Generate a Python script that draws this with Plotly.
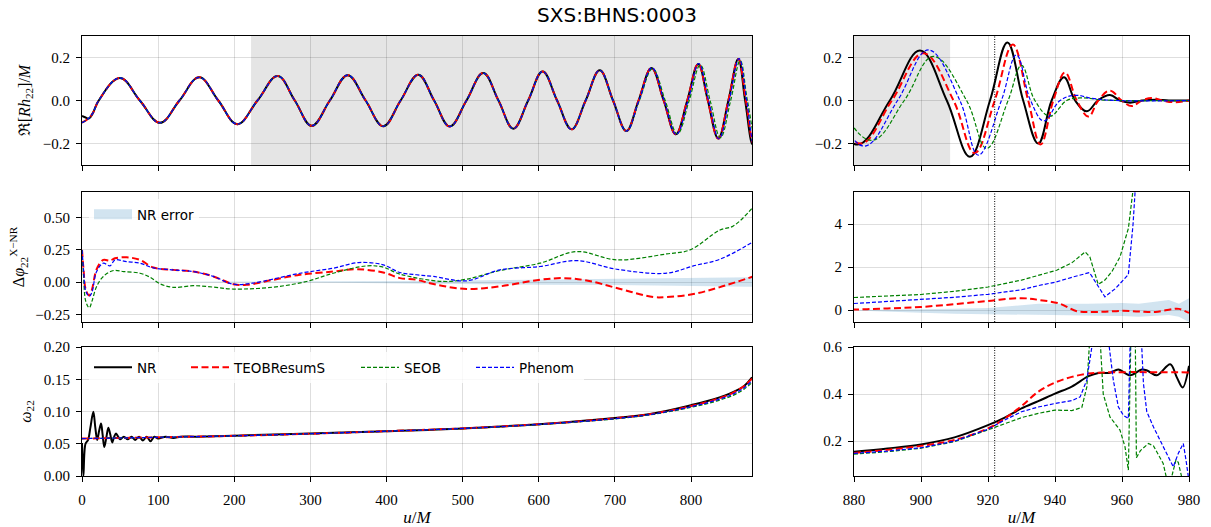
import plotly.graph_objects as go

# ------------------------------------------------------------------
# DATA
# ------------------------------------------------------------------
# --- Re[R h22]/M : extrema and zero crossings ---
t_head_nr = [0, 4, 9, 14]
h_head_nr = [-0.072, -0.078, -0.084, -0.06]
t_head_mod = [0, 8, 14]
h_head_mod = [-0.103, -0.085, -0.06]

t_mid = [22, 49.9, 76, 102.4, 128, 154, 179, 204, 230.5, 257, 279.5, 301.7,
         325.5, 349, 372.5, 395.7, 418.5, 441.7, 462.5, 483, 505, 527, 547,
         566.5, 586, 605, 624, 643, 661.5, 680, 697.5, 715]
h_mid = [0, 0.105, 0, -0.104, 0, 0.108, 0, -0.11, 0, 0.114, 0, -0.118,
         0, 0.118, 0, -0.12, 0, 0.12, 0, -0.121, 0, 0.128, 0,
         -0.131, 0, 0.135, 0, -0.134, 0, 0.141, 0, -0.142]

t_tail_nr = [731, 748, 764, 780, 795, 809.4, 822, 835.7, 849, 862, 871, 881,
             890.7, 899.7, 907.7, 914.6, 920.6, 925.8, 930.5, 935, 939, 942.7,
             946, 949.5, 952.8, 956.4, 959.4, 962.4, 966, 970, 974, 980]
h_tail_nr = [0, 0.151, 0, -0.157, 0, 0.17, 0, -0.177, 0, 0.193, 0, -0.205,
             0, 0.232, 0, -0.262, 0, 0.27, 0, -0.2, 0, 0.108,
             0, -0.05, 0, 0.025, 0, -0.01, 0, 0.004, 0, 0]

t_tail_teob = [731, 748, 764, 780, 795, 809.4, 822, 835.7, 849, 862, 872, 882,
               891.3, 900.7, 909.7, 916, 922, 927.4, 932, 935.7, 939.5, 943,
               946.5, 950, 952.9, 956.4, 959.9, 962.9, 965.9, 968.9, 972,
               975.8, 980]
h_tail_teob = [0, 0.151, 0, -0.157, 0, 0.17, 0, -0.177, 0, 0.192, 0, -0.2,
               0, 0.22, 0, -0.245, 0, 0.26, 0, -0.205, 0, 0.13,
               0, -0.075, 0, 0.046, 0, -0.026, 0, 0.012, 0,
               -0.008, 0]

t_tail_seob = [732, 749.5, 766, 782, 797.5, 812, 825, 838.5, 852, 864.5, 874,
               885.3, 895, 903.7, 913.6, 919.6, 926, 930, 934, 938.5, 943.5,
               947.5, 955, 980]
h_tail_seob = [0, 0.148, 0, -0.155, 0, 0.165, 0, -0.173, 0, 0.185, 0,
               -0.185, 0, 0.205, 0, -0.223, 0, 0.163, 0, -0.073, 0,
               0.012, 0.002, 0]

t_tail_phen = [731.5, 748.5, 764.5, 780.5, 796, 810, 823, 836.5, 850, 863, 873,
               883, 893, 902.2, 911.6, 917.1, 924, 928.5, 932.7, 936.7, 941.5,
               946, 951, 958, 980]
h_tail_phen = [0, 0.152, 0, -0.158, 0, 0.172, 0, -0.178, 0, 0.195, 0,
               -0.212, 0, 0.235, 0, -0.254, 0, 0.212, 0, -0.095, 0,
               0.024, 0.01, 0, 0]

# --- phase difference, inspiral (0-880) ---
tp_teob_l = [0, 2, 5, 9.6, 13, 19.2, 28, 36.7, 43.3, 58.6, 76.2, 93.7, 120, 146,
             172.5, 198.8, 216.3, 251.3, 286.3, 330, 360.7, 395.7, 417.7, 439.5,
             461.5, 505.2, 549, 601.5, 632.2, 662.8, 702.3, 750.4, 768, 803,
             838, 881.8]
dp_teob_l = [0.25, 0.1, -0.06, -0.104, -0.06, 0.1, 0.172, 0.167, 0.185, 0.193,
             0.172, 0.113, 0.095, 0.082, 0.044, -0.016, -0.021, 0.018, 0.057,
             0.082, 0.1, 0.075, 0.031, 0.018, -0.015, -0.054, -0.033, 0.018,
             0.031, 0.013, -0.046, -0.116, -0.116, -0.093, -0.039, 0.044]

tp_phen_l = [0, 2, 5, 9.6, 13, 19.2, 28, 36.7, 43.3, 58.6, 76.2, 93.7, 120, 146,
             172.5, 198.8, 224, 286.3, 330, 363.3, 395.7, 417.7, 439.5, 461.5,
             505.2, 549, 601.5, 649.7, 702.3, 768, 803, 838, 881.8]
dp_phen_l = [0.25, 0.1, -0.07, -0.11, -0.08, 0.082, 0.147, 0.126, 0.172, 0.159,
             0.147, 0.11, 0.095, 0.082, 0.044, -0.016, -0.008, 0.069, 0.108,
             0.152, 0.134, 0.0745, 0.057, 0.044, 0.01, 0.095, 0.121, 0.167,
             0.1, 0.069, 0.126, 0.178, 0.314]

tp_seob_l = [0, 2, 5, 9.6, 13, 19.2, 28, 41.5, 54.7, 76.2, 89.3, 102.4, 120,
             146, 172.5, 198.8, 251.3, 295, 330, 374, 395.7, 417.7, 474.6,
             505.2, 549, 601.5, 649.7, 702.3, 768, 798.6, 838, 855.5, 881.8]
dp_seob_l = [0.25, 0.05, -0.15, -0.2, -0.15, -0.034, 0.044, 0.09, 0.082, 0.069,
             0.038, -0.013, -0.041, -0.028, -0.039, -0.054, -0.039, 0.005,
             0.069, 0.126, 0.116, 0.062, 0.005, 0.023, 0.09, 0.147, 0.237,
             0.173, 0.219, 0.25, 0.405, 0.436, 0.585]

t_err_l = [0, 300, 400, 450, 500, 600, 700, 800, 880]
err_l = [0.002, 0.004, 0.006, 0.009, 0.013, 0.02, 0.023, 0.03, 0.037]

# --- phase difference, merger (880-980) ---
tp_teob_r = [870, 880, 890, 900, 910, 920, 930, 935.5, 941.5, 946.5, 950, 955,
             960, 965, 970, 975, 977, 980]
dp_teob_r = [0.0, 0.03, 0.08, 0.15, 0.28, 0.43, 0.56, 0.47, 0.3, -0.05, -0.08,
             -0.07, -0.03, -0.06, -0.08, 0.05, 0.06, -0.13]

tp_seob_r = [880, 890, 900, 910, 920, 930, 935.5, 940.5, 945, 949, 950.4, 952.9,
             954.9, 957, 959.4, 961.9, 963.3, 964]
dp_seob_r = [0.59, 0.65, 0.73, 0.88, 1.08, 1.4, 1.63, 1.86, 2.2, 2.71, 2.48, 1.2,
             1.4, 1.8, 2.48, 3.8, 5.6, 7.0]

tp_phen_r = [880, 890, 900, 910, 920, 930, 935.5, 940, 945.5, 950.3, 954.9, 958,
             961.9, 963.3, 964.5]
dp_phen_r = [0.31, 0.4, 0.5, 0.6, 0.74, 0.95, 1.16, 1.3, 1.55, 1.75, 0.62, 1.0,
             1.66, 4.0, 7.0]

t_err_r = [880, 890, 900, 910, 920, 935, 950, 960, 965, 970, 974, 977, 980]
err_up_r = [0.01, 0.02, 0.04, 0.07, 0.1, 0.3, 0.3, 0.33, 0.3, 0.4, 0.47, 0.3, 0.55]
err_lo_r = [-0.02, -0.07, -0.12, -0.17, -0.22, -0.23, -0.25, -0.27, -0.3, -0.25,
            -0.23, -0.3, -0.55]

# --- frequency, inspiral (0-880) ---
tw_nr_l = [0, 1.8, 4.6, 8, 11, 14.9, 17.5, 20, 22.5, 25, 27, 29.3, 32, 34.6, 37,
           39.8, 42, 44.6, 47, 50, 55, 60, 65, 70, 75, 80, 85, 90, 95, 100, 110,
           120, 130, 150, 200, 300, 400, 500, 600, 700, 750, 800, 830, 855, 870,
           880]
w_nr_l = [0.051, 0.0, 0.05, 0.056, 0.075, 0.0995, 0.075, 0.056, 0.07, 0.0815,
          0.065, 0.045, 0.06, 0.075, 0.065, 0.052, 0.06, 0.066, 0.062, 0.057,
          0.061, 0.057, 0.061, 0.056, 0.061, 0.055, 0.061, 0.054, 0.061, 0.058,
          0.061, 0.059, 0.061, 0.061, 0.0625, 0.066, 0.0695, 0.0738, 0.0804,
          0.090, 0.097, 0.1098, 0.119, 0.130, 0.14, 0.153]

tw_mod_l = [0, 100, 200, 300, 400, 500, 600, 700, 750, 800, 830, 855, 870, 880]
w_teob_l = [0.058, 0.060, 0.0623, 0.0655, 0.0695, 0.0738, 0.0802, 0.0895, 0.0965,
            0.1085, 0.118, 0.129, 0.14, 0.151]
w_seob_l = [0.058, 0.060, 0.0623, 0.0655, 0.0695, 0.0735, 0.0797, 0.0885, 0.0955,
            0.1065, 0.115, 0.125, 0.135, 0.145]
w_phen_l = [0.058, 0.060, 0.0623, 0.0655, 0.0695, 0.0737, 0.0800, 0.089, 0.096,
            0.1075, 0.1165, 0.127, 0.137, 0.148]

# --- frequency, merger (880-980) ---
tw_nr_r = [880, 890, 900, 910, 920, 925, 930, 935, 940, 945, 950, 953, 956.4,
           958.9, 962.4, 965.9, 967.5, 970.4, 974.4, 976.4, 978.1, 980]
w_nr_r = [0.155, 0.169, 0.186, 0.216, 0.268, 0.3, 0.339, 0.37, 0.402, 0.432,
          0.476, 0.49, 0.49, 0.504, 0.48, 0.504, 0.5, 0.48, 0.527, 0.47, 0.428,
          0.52]

tw_teob_r = [880, 890, 900, 910, 920, 925, 930, 935, 940, 945, 950, 955, 980]
w_teob_r = [0.15, 0.163, 0.18, 0.205, 0.254, 0.296, 0.349, 0.41, 0.449, 0.473,
            0.487, 0.492, 0.492]

tw_phen_r = [880, 890, 900, 910, 920, 925, 930, 935, 940, 945, 947.5, 949.5, 951,
             952, 955, 956.2, 957.4, 958.9, 960.4, 961.9, 962.4, 962.8, 965.5,
             965.9, 966.4, 967.4, 969.4, 972.3, 975.3, 976.8, 978.3, 979.1, 979.8]
w_phen_r = [0.148, 0.158, 0.172, 0.2, 0.251, 0.29, 0.325, 0.345, 0.36, 0.372,
            0.388, 0.46, 0.6, 0.9, 0.9, 0.6, 0.46, 0.346, 0.31, 0.296, 0.6, 0.9,
            0.9, 0.6, 0.445, 0.325, 0.26, 0.176, 0.091, 0.148, 0.19, 0.12, 0.05]

tw_seob_r = [880, 890, 900, 910, 920, 925, 930, 935, 940, 945, 948, 949.5, 950.6,
             951.5, 953, 953.6, 954.4, 956.4, 959.4, 960.9, 961.9, 962.6, 963,
             963.8, 964.0, 964.3, 965.5, 967.9, 969.4, 972.3, 973.5, 974.5,
             976.1, 976.8, 978.1, 980]
w_seob_r = [0.145, 0.155, 0.17, 0.198, 0.248, 0.275, 0.3, 0.318, 0.332, 0.33,
            0.343, 0.43, 0.6, 0.9, 0.9, 0.6, 0.4, 0.303, 0.247, 0.176, 0.077,
            0.6, 0.9, 0.9, 0.6, 0.13, 0.16, 0.19, 0.18, 0.105, 0.03, 0.03,
            0.12, 0.11, 0.03, 0.0]

# --- annotations / ranges ---
t_shade_left = [222, 880]
t_shade_right = [880, 908.7]
t_merger = 922
left_ticks = [0, 100, 200, 300, 400, 500, 600, 700, 800]
right_ticks = [880, 900, 920, 940, 960, 980]
title_text = "SXS:BHNS:0003"
names = ["NR", "TEOBResumS", "SEOB", "Phenom"]

# ------------------------------------------------------------------
# STYLE
# ------------------------------------------------------------------
W, H = 1211, 527
SERIF = "Liberation Serif"
SANS = "DejaVu Sans"
st = {
    "NR": dict(color="black", width=2.0, dash="solid"),
    "TEOBResumS": dict(color="#ff0000", width=2.0, dash="7px,3.5px"),
    "SEOB": dict(color="#008000", width=1.2, dash="4px,2px"),
    "Phenom": dict(color="#0000ff", width=1.2, dash="4px,2px"),
}
ERRFILL = "rgba(31,119,180,0.2)"

def px_x(a, b):
    return [a / W, b / W]

def px_y(top, bottom):
    return [1 - bottom / H, 1 - top / H]

XL = px_x(82, 752)
XR = px_x(854, 1189)
Y1 = px_y(36, 165)
Y2 = px_y(192, 322)
Y3 = px_y(347, 476)

fig = go.Figure()

def add(x, y, name, xa, ya, shape="spline", legend=None, lw=None, smooth=1.0):
    s = st[name]
    if legend:
        kw = dict(showlegend=True, legend=legend, legendwidth=lw)
    else:
        kw = dict(showlegend=False)
    fig.add_trace(go.Scatter(
        x=x, y=y, mode="lines", name=name, xaxis=xa, yaxis=ya,
        line=dict(color=s["color"], width=s["width"], dash=s["dash"],
                  shape=shape, smoothing=smooth if shape == "spline" else None),
        hoverinfo="skip", **kw))

# full waveforms
wt = {
    "NR": (t_head_nr + t_mid + t_tail_nr, h_head_nr + h_mid + h_tail_nr),
    "TEOBResumS": (t_head_mod + t_mid + t_tail_teob, h_head_mod + h_mid + h_tail_teob),
    "SEOB": (t_head_mod + t_mid + t_tail_seob, h_head_mod + h_mid + h_tail_seob),
    "Phenom": (t_head_mod + t_mid + t_tail_phen, h_head_mod + h_mid + h_tail_phen),
}
for nm in names:
    add(wt[nm][0], wt[nm][1], nm, "x", "y", smooth=1.12)
    add(wt[nm][0], wt[nm][1], nm, "x2", "y2", smooth=1.12)

# NR error bands
fig.add_trace(go.Scatter(
    x=t_err_l + t_err_l[::-1], y=err_l + [-e for e in err_l[::-1]],
    fill="toself", fillcolor=ERRFILL, line=dict(width=0), mode="lines",
    xaxis="x3", yaxis="y3", showlegend=False, hoverinfo="skip"))
fig.add_trace(go.Scatter(
    x=t_err_r + t_err_r[::-1], y=err_up_r + err_lo_r[::-1],
    fill="toself", fillcolor=ERRFILL, line=dict(width=0), mode="lines",
    xaxis="x4", yaxis="y4", showlegend=False, hoverinfo="skip"))
# legend entry for the error band (patch drawn as a wide swatch)
fig.add_trace(go.Scatter(
    x=[None], y=[None], mode="lines", name="NR error", xaxis="x3", yaxis="y3",
    line=dict(color=ERRFILL, width=11), showlegend=True, legend="legend2",
    hoverinfo="skip"))

add(tp_teob_l, dp_teob_l, "TEOBResumS", "x3", "y3")
add(tp_seob_l, dp_seob_l, "SEOB", "x3", "y3")
add(tp_phen_l, dp_phen_l, "Phenom", "x3", "y3")
add(tp_teob_r, dp_teob_r, "TEOBResumS", "x4", "y4")
add(tp_seob_r, dp_seob_r, "SEOB", "x4", "y4", shape="linear")
add(tp_phen_r, dp_phen_r, "Phenom", "x4", "y4", shape="linear")

# frequencies
add(tw_nr_l, w_nr_l, "NR", "x5", "y5", legend="legend", lw=44)
add(tw_mod_l, w_teob_l, "TEOBResumS", "x5", "y5", legend="legend", lw=117)
add(tw_mod_l, w_seob_l, "SEOB", "x5", "y5", legend="legend", lw=62)
add(tw_mod_l, w_phen_l, "Phenom", "x5", "y5", legend="legend", lw=60)
add(tw_nr_r, w_nr_r, "NR", "x6", "y6")
add(tw_teob_r, w_teob_r, "TEOBResumS", "x6", "y6")
add(tw_seob_r, w_seob_r, "SEOB", "x6", "y6", shape="linear")
add(tw_phen_r, w_phen_r, "Phenom", "x6", "y6", shape="linear")

GRID = "rgba(0,0,0,0.13)"
tickfont = dict(family=SERIF, size=15, color="black")

def xax(dom, anchor, rng, ticks, labels, title=None):
    d = dict(domain=dom, anchor=anchor, range=rng, tickvals=ticks,
             showticklabels=labels, ticks="outside", ticklen=5, tickwidth=1,
             tickcolor="black", showline=True, mirror=True, linecolor="black",
             linewidth=1, showgrid=True, gridcolor=GRID, gridwidth=1,
             zeroline=False, tickfont=tickfont, fixedrange=True,
             ticklabelstandoff=5, automargin=False)
    if title:
        d["title"] = dict(text=title, font=dict(family=SERIF, size=17,
                                                color="black"), standoff=6)
    return d

def yax(dom, anchor, rng, ticks, fmt, title=None, standoff=8):
    d = dict(domain=dom, anchor=anchor, range=rng, tickvals=ticks,
             tickformat=fmt, ticks="outside", ticklen=5, tickwidth=1,
             tickcolor="black", showline=True, mirror=True, linecolor="black",
             linewidth=1, showgrid=True, gridcolor=GRID, gridwidth=1,
             zeroline=False, tickfont=tickfont, fixedrange=True,
             ticklabelstandoff=3, automargin=False)
    if title:
        d["title"] = dict(text=title, font=dict(family=SERIF, size=16,
                                                color="black"),
                          standoff=standoff)
    return d

umlabel = "<i>u</i>/<i>M</i>"
fig.update_layout(
    width=W, height=H, margin=dict(l=0, r=0, t=0, b=0, autoexpand=False),
    paper_bgcolor="white", plot_bgcolor="white",
    font=dict(family=SERIF, size=15, color="black"),
    title=dict(text=title_text, x=617 / W, xanchor="center", y=1 - 15 / H,
               yanchor="middle", font=dict(family=SANS, size=20, color="black")),
    xaxis=xax(XL, "y", [0, 880], left_ticks, False),
    yaxis=yax(Y1, "x", [-0.3, 0.3], [-0.2, 0.0, 0.2], ".1f",
              "ℜ[<i>Rh</i><sub>22</sub>]/<i>M</i>"),
    xaxis2=xax(XR, "y2", [880, 980], right_ticks, False),
    yaxis2=yax(Y1, "x2", [-0.3, 0.3], [-0.2, 0.0, 0.2], ".1f"),
    xaxis3=xax(XL, "y3", [0, 880], left_ticks, False),
    yaxis3=yax(Y2, "x3", [-0.31, 0.70], [-0.25, 0.0, 0.25, 0.5], ".2f",
               "Δ<i>φ</i><sub>22</sub><sup>X−NR</sup>", standoff=6),
    xaxis4=xax(XR, "y4", [880, 980], right_ticks, False),
    yaxis4=yax(Y2, "x4", [-0.55, 5.5], [0, 2, 4], "d"),
    xaxis5=xax(XL, "y5", [0, 880], left_ticks, True, umlabel),
    yaxis5=yax(Y3, "x5", [0, 0.2], [0, 0.05, 0.1, 0.15, 0.2], ".2f",
               "<i>ω</i><sub>22</sub>"),
    xaxis6=xax(XR, "y6", [880, 980], right_ticks, True, umlabel),
    yaxis6=yax(Y3, "x6", [0.052, 0.6], [0.2, 0.4, 0.6], ".1f"),
    legend=dict(orientation="h", x=89 / W, y=1 - 352 / H, xanchor="left",
                yanchor="top", bgcolor="rgba(255,255,255,0.8)", borderwidth=0,
                font=dict(family=SANS, size=13.5, color="black"),
                itemwidth=38, tracegroupgap=0),
    legend2=dict(x=89 / W, y=1 - 199 / H, xanchor="left", yanchor="top",
                 bgcolor="rgba(255,255,255,0.8)", borderwidth=0,
                 font=dict(family=SANS, size=13.5, color="black"),
                 itemwidth=38),
    showlegend=True,
)

shapes = [
    dict(type="rect", xref="x", yref="y domain", x0=t_shade_left[0],
         x1=t_shade_left[1], y0=0, y1=1, fillcolor="rgba(0,0,0,0.1)",
         line=dict(width=0), layer="below"),
    dict(type="rect", xref="x2", yref="y2 domain", x0=t_shade_right[0],
         x1=t_shade_right[1], y0=0, y1=1, fillcolor="rgba(0,0,0,0.1)",
         line=dict(width=0), layer="below"),
]
for xa, ya in [("x2", "y2"), ("x4", "y4"), ("x6", "y6")]:
    shapes.append(dict(type="line", xref=xa, yref=ya + " domain", x0=t_merger,
                       x1=t_merger, y0=0, y1=1,
                       line=dict(color="black", width=1, dash="1px,1.5px")))
fig.update_layout(shapes=shapes)

fig.write_html("out.html", config={"displayModeBar": False})
